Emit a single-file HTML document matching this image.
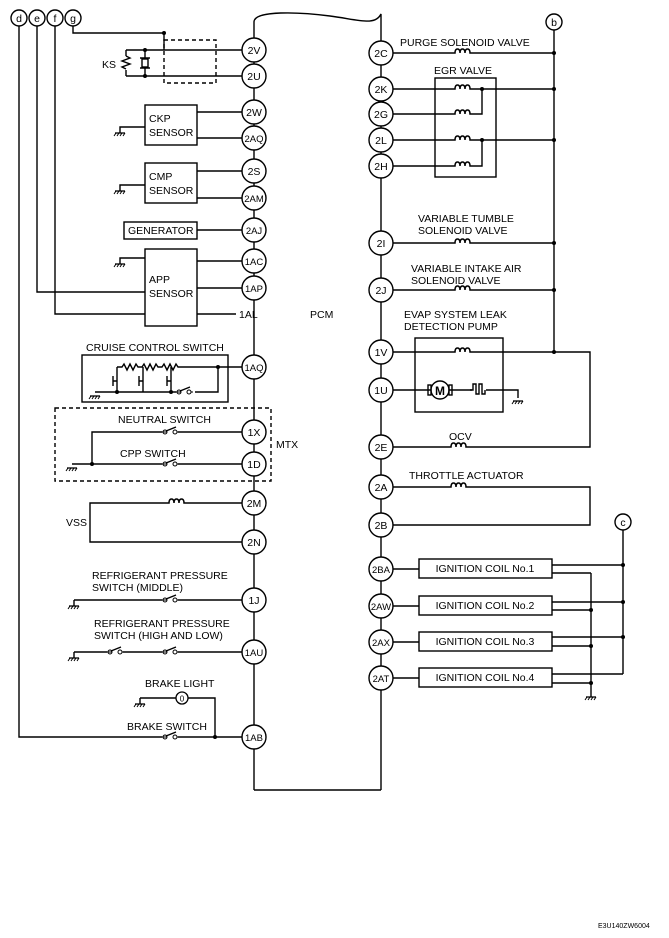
<!DOCTYPE html>
<html><head><meta charset="utf-8"><style>
html,body{margin:0;padding:0;background:#fff;}
svg{display:block;}
text{font-family:"Liberation Sans",Arial,sans-serif;font-size:10.5px;fill:#000;}
</style></head><body>
<svg width="669" height="938" viewBox="0 0 669 938" xmlns="http://www.w3.org/2000/svg">
<defs>
<g id="coil"><rect x="-9" y="-5" width="18" height="6" fill="#fff"/><path d="M-9,0 h2 q0,-4 2.5,-4 q2.5,0 2.5,4 q0,-4 2.5,-4 q2.5,0 2.5,4 q0,-4 2.5,-4 q2.5,0 2.5,4 h1" fill="none" stroke="#000" stroke-width="1.5"/></g>
<g id="sw"><rect x="-8" y="-7" width="16" height="9" fill="#fff"/><circle cx="-5" cy="0" r="2" fill="#fff" stroke="#000"/><circle cx="5" cy="0" r="2" fill="#fff" stroke="#000"/><line x1="-3" y1="0" x2="-9" y2="0" stroke="#000"/><line x1="7" y1="0" x2="9" y2="0" stroke="#000"/><line x1="-4" y1="-1" x2="6" y2="-5" stroke="#000" stroke-width="1.3"/></g>
<g id="gnd"><line x1="-5" y1="0" x2="5" y2="0" stroke="#000" stroke-width="1.3"/><path d="M-4,0 l-2,3 M-1,0 l-2,3 M2,0 l-2,3 M5,0 l-2,3" stroke="#000"/></g>
</defs>
<g fill="none" stroke="#000" stroke-width="1.4">
<path d="M254,38 V22 C254,10 300,12 330,16 C360,20 375,26 381,14 V41"/>
<line x1="254" y1="62" x2="254" y2="725"/>
<line x1="254" y1="749" x2="254" y2="790"/>
<line x1="254" y1="790" x2="381" y2="790"/>
<line x1="381" y1="65" x2="381" y2="790"/>
<path d="M19,26 V737 H242"/>
<path d="M37,26 V292 H145"/>
<path d="M55,26 V314 H145"/>
<path d="M73,26 V33 H164"/>
<line x1="164" y1="33" x2="164" y2="50"/>
<rect x="164" y="40" width="52" height="43" stroke-dasharray="4,3"/>
<path d="M126,50 H242 M126,76 H242 M126,50 V56 M126,70 V76"/>
<path d="M126,56 l4,2 l-8,3 l8,3 l-8,3 l4,2"/>
<path d="M145,50 V58 M145,68 V76"/><rect x="142" y="59" width="6" height="8"/><path d="M140,58 h10 M140,68 h10"/>
<rect x="145" y="105" width="52" height="40"/>
<path d="M197,112 H242 M197,138 H242 M145,127 H120 V133"/>
<rect x="145" y="163" width="52" height="40"/>
<path d="M197,171 H242 M197,198 H242 M145,185 H120 V191"/>
<rect x="124" y="222" width="73" height="17"/>
<path d="M197,230 H242"/>
<rect x="145" y="249" width="52" height="77"/>
<path d="M197,261 H242 M197,288 H242 M197,314 H236 M145,258 H120 V264"/>
<rect x="82" y="355" width="146" height="47"/>
<path d="M192,367 H242 M117,367 h5 l2,-3 l3,6 l3,-6 l3,6 l3,-6 l2,3 h4 l2,-3 l3,6 l3,-6 l3,6 l3,-6 l2,3 h4 l2,-3 l3,6 l3,-6 l3,6 l3,-6 l2,3 H218 V392 H195"/>
<path d="M95,392 H178 M117,367 V392 M143,367 V392 M171,367 V392"/>
<path d="M113,376 v10 M139,376 v10 M167,376 v10 M113,381 h4 M139,381 h4 M167,381 h4"/>
<rect x="55" y="408" width="216" height="73" stroke-dasharray="4,3"/>
<path d="M92,464 V432 H242 M72,464 H242"/>
<path d="M242,503 H90 V542 H242"/>
<path d="M74,600 V606 M74,600 H242 M74,652 V658 M74,652 H242"/>
<path d="M140,698 V704 M140,698 H215 V737"/>
<path d="M554,30 V352"/>
<path d="M393,53 H554 M393,89 H554 M393,114 H482 V89 M393,140 H554 M393,166 H482 V140"/>
<rect x="435" y="78" width="61" height="99"/>
<path d="M393,243 H554 M393,290 H554 M393,352 H590 V447 H393"/>
<rect x="415" y="338" width="88" height="74"/>
<path d="M393,390 H431 M449,390 H472 M486,390 H518 V398"/>
<circle cx="440" cy="390" r="9"/>
<rect x="428" y="385" width="3" height="10"/><rect x="449" y="385" width="3" height="10"/>
<path d="M470,390 h3 v-6 h3 v10 h3 v-10 h3 v10 h3 v-4"/>
<path d="M393,487 H590 V525 H393"/>
<path d="M393,569 H419 M393,606 H419 M393,642 H419 M393,678 H419"/>
<rect x="419" y="559" width="133" height="19"/>
<rect x="419" y="596" width="133" height="19"/>
<rect x="419" y="632" width="133" height="19"/>
<rect x="419" y="668" width="133" height="19"/>
<path d="M552,565 H623 M552,602 H623 M552,637 H623 M552,674 H623 M623,530 V674"/>
<path d="M552,573 H591 M552,610 H591 M552,646 H591 M552,683 H591 M591,573 V697"/>
</g>
<g fill="#000">
<circle cx="164" cy="33" r="2"/><circle cx="145" cy="50" r="2"/><circle cx="145" cy="76" r="2"/>
<circle cx="117" cy="392" r="2"/><circle cx="171" cy="392" r="2"/><circle cx="218" cy="367" r="2"/>
<circle cx="92" cy="464" r="2"/><circle cx="215" cy="737" r="2"/>
<circle cx="554" cy="53" r="2"/><circle cx="554" cy="89" r="2"/><circle cx="554" cy="140" r="2"/><circle cx="482" cy="89" r="2"/><circle cx="482" cy="140" r="2"/>
<circle cx="554" cy="243" r="2"/><circle cx="554" cy="290" r="2"/><circle cx="554" cy="352" r="2"/>
<circle cx="623" cy="565" r="2"/><circle cx="623" cy="602" r="2"/><circle cx="623" cy="637" r="2"/>
<circle cx="591" cy="610" r="2"/><circle cx="591" cy="646" r="2"/><circle cx="591" cy="683" r="2"/>
</g>
<use href="#gnd" x="120" y="133"/><use href="#gnd" x="120" y="191"/><use href="#gnd" x="120" y="264"/>
<use href="#gnd" x="95" y="396"/><use href="#gnd" x="72" y="468"/><use href="#gnd" x="74" y="606"/><use href="#gnd" x="74" y="658"/><use href="#gnd" x="140" y="704"/>
<use href="#gnd" x="518" y="401"/><use href="#gnd" x="591" y="697"/>
<use href="#sw" x="184" y="392"/><use href="#sw" x="170" y="432"/><use href="#sw" x="170" y="464"/>
<use href="#sw" x="170" y="600"/><use href="#sw" x="115" y="652"/><use href="#sw" x="170" y="652"/><use href="#sw" x="170" y="737"/>
<use href="#coil" x="176" y="503"/>
<use href="#coil" x="462" y="53"/><use href="#coil" x="462" y="89"/><use href="#coil" x="462" y="114"/><use href="#coil" x="462" y="140"/><use href="#coil" x="462" y="166"/>
<use href="#coil" x="462" y="243"/><use href="#coil" x="462" y="290"/><use href="#coil" x="462" y="352"/><use href="#coil" x="458" y="447"/><use href="#coil" x="458" y="487"/>
<circle cx="182" cy="698" r="6" fill="#fff" stroke="#000" stroke-width="1.3"/><text x="182" y="701.5" text-anchor="middle" style="font-size:8px">0</text>
<text x="440" y="395" text-anchor="middle" style="font-size:12px;font-weight:bold">M</text>
<g fill="#fff" stroke="#000" stroke-width="1.4">
<circle cx="19" cy="18" r="8"/><circle cx="37" cy="18" r="8"/><circle cx="55" cy="18" r="8"/><circle cx="73" cy="18" r="8"/>
<circle cx="554" cy="22" r="8"/><circle cx="623" cy="522" r="8"/>
<circle cx="254" cy="50" r="12"/><circle cx="254" cy="76" r="12"/><circle cx="254" cy="112" r="12"/><circle cx="254" cy="138" r="12"/>
<circle cx="254" cy="171" r="12"/><circle cx="254" cy="198" r="12"/><circle cx="254" cy="230" r="12"/><circle cx="254" cy="261" r="12"/>
<circle cx="254" cy="288" r="12"/><circle cx="254" cy="367" r="12"/><circle cx="254" cy="432" r="12"/><circle cx="254" cy="464" r="12"/>
<circle cx="254" cy="503" r="12"/><circle cx="254" cy="542" r="12"/><circle cx="254" cy="600" r="12"/><circle cx="254" cy="652" r="12"/><circle cx="254" cy="737" r="12"/>
<circle cx="381" cy="53" r="12"/><circle cx="381" cy="89" r="12"/><circle cx="381" cy="114" r="12"/><circle cx="381" cy="140" r="12"/><circle cx="381" cy="166" r="12"/>
<circle cx="381" cy="243" r="12"/><circle cx="381" cy="290" r="12"/><circle cx="381" cy="352" r="12"/><circle cx="381" cy="390" r="12"/><circle cx="381" cy="447" r="12"/>
<circle cx="381" cy="487" r="12"/><circle cx="381" cy="525" r="12"/><circle cx="381" cy="569" r="12"/><circle cx="381" cy="606" r="12"/><circle cx="381" cy="642" r="12"/><circle cx="381" cy="678" r="12"/>
</g>
<g text-anchor="middle">
<text x="19" y="22">d</text><text x="37" y="22">e</text><text x="55" y="22">f</text><text x="73" y="22">g</text>
<text x="554" y="26">b</text><text x="623" y="526">c</text>
<text x="254" y="54">2V</text><text x="254" y="80">2U</text><text x="254" y="116">2W</text><text x="254" y="142" style="font-size:9.5px">2AQ</text>
<text x="254" y="175">2S</text><text x="254" y="202" style="font-size:9.5px">2AM</text><text x="254" y="234" style="font-size:9.5px">2AJ</text><text x="254" y="265" style="font-size:9.5px">1AC</text>
<text x="254" y="292" style="font-size:9.5px">1AP</text><text x="254" y="371" style="font-size:9.5px">1AQ</text><text x="254" y="436">1X</text><text x="254" y="468">1D</text>
<text x="254" y="507">2M</text><text x="254" y="546">2N</text><text x="254" y="604">1J</text><text x="254" y="656" style="font-size:9.5px">1AU</text><text x="254" y="741" style="font-size:9.5px">1AB</text>
<text x="381" y="57">2C</text><text x="381" y="93">2K</text><text x="381" y="118">2G</text><text x="381" y="144">2L</text><text x="381" y="170">2H</text>
<text x="381" y="247">2I</text><text x="381" y="294">2J</text><text x="381" y="356">1V</text><text x="381" y="394">1U</text><text x="381" y="451">2E</text>
<text x="381" y="491">2A</text><text x="381" y="529">2B</text><text x="381" y="573" style="font-size:9.5px">2BA</text><text x="381" y="610" style="font-size:9.5px">2AW</text><text x="381" y="646" style="font-size:9.5px">2AX</text><text x="381" y="682" style="font-size:9.5px">2AT</text>
<text x="485" y="572">IGNITION COIL No.1</text><text x="485" y="609">IGNITION COIL No.2</text><text x="485" y="645">IGNITION COIL No.3</text><text x="485" y="681">IGNITION COIL No.4</text>
</g>
<text x="102" y="68">KS</text>
<text x="149" y="122">CKP</text><text x="149" y="136">SENSOR</text>
<text x="149" y="180">CMP</text><text x="149" y="194">SENSOR</text>
<text x="128" y="234">GENERATOR</text>
<text x="149" y="283">APP</text><text x="149" y="297">SENSOR</text>
<text x="239" y="318">1AL</text><text x="310" y="318">PCM</text>
<text x="86" y="351">CRUISE CONTROL SWITCH</text>
<text x="118" y="423">NEUTRAL SWITCH</text><text x="120" y="457">CPP SWITCH</text><text x="276" y="448">MTX</text>
<text x="66" y="526">VSS</text>
<text x="92" y="579">REFRIGERANT PRESSURE</text><text x="92" y="591">SWITCH (MIDDLE)</text>
<text x="94" y="627">REFRIGERANT PRESSURE</text><text x="94" y="639">SWITCH (HIGH AND LOW)</text>
<text x="145" y="687">BRAKE LIGHT</text><text x="127" y="730">BRAKE SWITCH</text>
<text x="400" y="46">PURGE SOLENOID VALVE</text><text x="434" y="74">EGR  VALVE</text>
<text x="418" y="222">VARIABLE TUMBLE</text><text x="418" y="234">SOLENOID VALVE</text>
<text x="411" y="272">VARIABLE INTAKE AIR</text><text x="411" y="284">SOLENOID VALVE</text>
<text x="404" y="318">EVAP SYSTEM LEAK</text><text x="404" y="330">DETECTION PUMP</text>
<text x="449" y="440">OCV</text><text x="409" y="479">THROTTLE ACTUATOR</text>
<text x="598" y="928" style="font-size:7px">E3U140ZW6004</text>
</svg>
</body></html>
